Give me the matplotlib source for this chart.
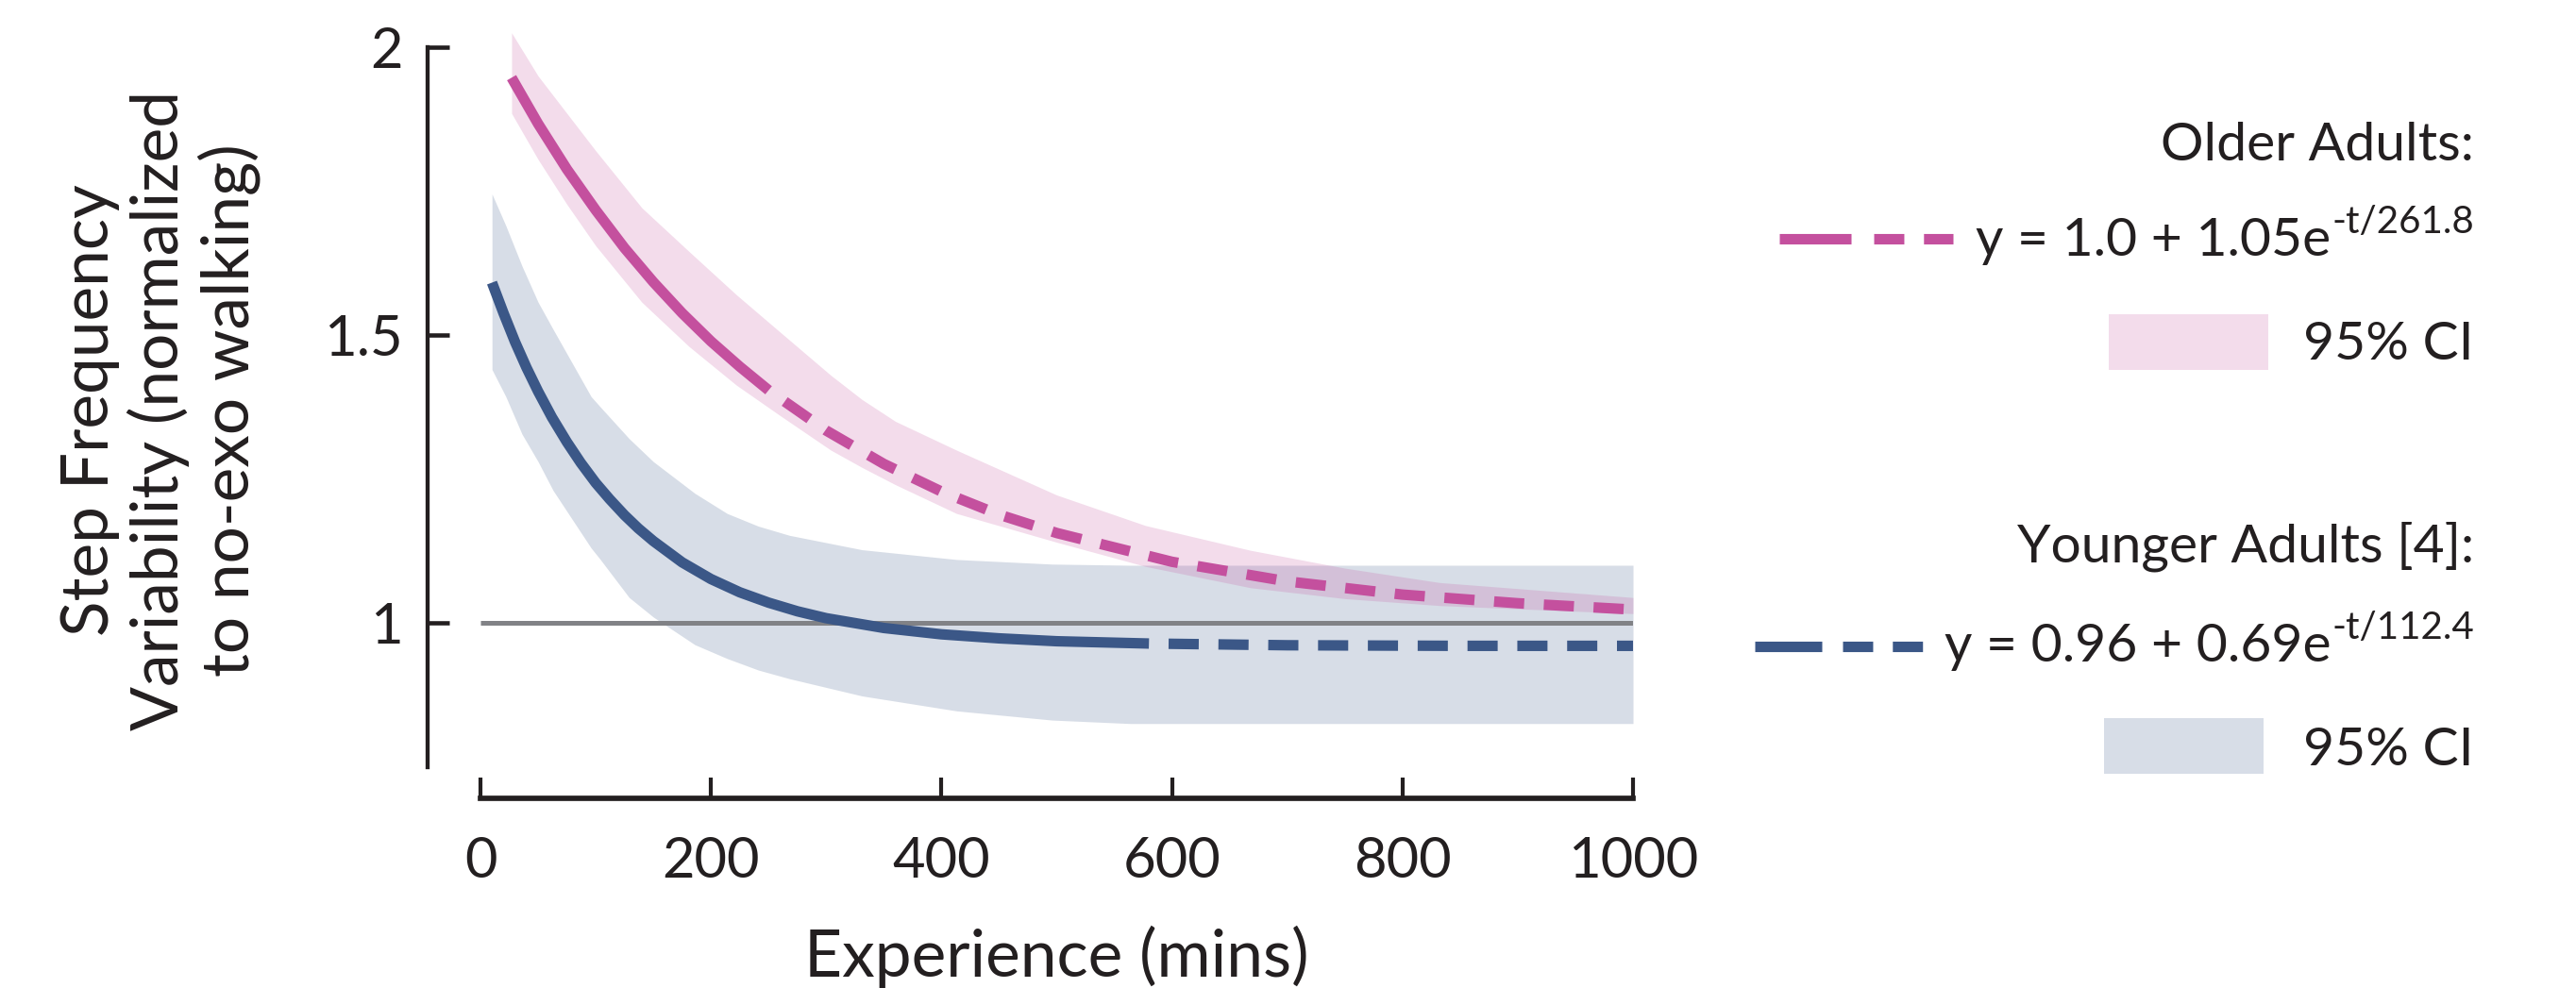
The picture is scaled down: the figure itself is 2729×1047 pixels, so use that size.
import matplotlib
matplotlib.use("Agg")
import matplotlib.pyplot as plt
from matplotlib.patches import Rectangle

plt.rcParams["font.family"] = ["Lato", "DejaVu Sans"]
plt.rcParams["lines.scale_dashes"] = False

# ---- data ---------------------------------------------------------------
# Older adults: fitted curve (solid up to old_solid_end, dashed after)
old_t = [27, 50, 75, 100, 125, 150, 175, 200, 225, 250, 300, 350, 400, 450,
         500, 600, 700, 800, 900, 1000]
old_y = [1.947, 1.867, 1.788, 1.717, 1.651, 1.592, 1.538, 1.489, 1.445, 1.404,
         1.334, 1.276, 1.228, 1.188, 1.156, 1.106, 1.072, 1.049, 1.034, 1.023]
old_solid_end = 250

old_ci_t = [27, 50, 75, 100, 140, 181, 222, 260, 304, 331, 360, 413, 500, 577,
            668, 750, 832, 1000]
old_ci_hi = [2.025, 1.95, 1.885, 1.82, 1.721, 1.645, 1.57, 1.505, 1.43, 1.388,
             1.35, 1.30, 1.222, 1.169, 1.126, 1.095, 1.07, 1.044]
old_ci_lo = [1.885, 1.805, 1.727, 1.655, 1.557, 1.48, 1.413, 1.36, 1.30, 1.27,
             1.24, 1.19, 1.14, 1.098, 1.061, 1.042, 1.03, 1.016]

# Younger adults [4]
young_t = [10, 20, 30, 40, 50, 62, 75, 87, 100, 112, 125, 137, 150, 175, 200,
           225, 250, 275, 300, 350, 400, 450, 500, 580, 700, 850, 1000]
young_y = [1.591, 1.538, 1.488, 1.443, 1.402, 1.357, 1.314, 1.278, 1.243, 1.215,
           1.187, 1.164, 1.142, 1.105, 1.076, 1.053, 1.035, 1.020, 1.008, 0.991,
           0.980, 0.973, 0.968, 0.964, 0.961, 0.960, 0.960]
young_solid_end = 580

young_ci_t = [10, 22, 36, 50, 63, 96, 104, 129, 150, 186, 214, 241, 268, 331,
              413, 496, 564, 1000]
young_ci_hi = [1.745, 1.69, 1.62, 1.557, 1.51, 1.393, 1.375, 1.32, 1.28, 1.225,
               1.19, 1.168, 1.152, 1.127, 1.11, 1.102, 1.10, 1.10]
young_ci_lo = [1.44, 1.393, 1.328, 1.28, 1.23, 1.13, 1.11, 1.044, 1.01, 0.962,
               0.938, 0.918, 0.903, 0.873, 0.847, 0.831, 0.825, 0.825]

baseline_t = [0, 1000]
baseline_y = [1, 1]

group_titles = ["Older Adults:", "Younger Adults [4]:"]
eq_main = ["y = 1.0 + 1.05e", "y = 0.96 + 0.69e"]
eq_sup = ["-t/261.8", "-t/112.4"]

x_ticks = [0, 200, 400, 600, 800, 1000]
y_ticks = [1, 1.5, 2]
y_ticklabels = ["1", "1.5", "2"]

# ---- style ----------------------------------------------------------------
PINK = "#c4509e"
BLUE = "#3b5787"
GREY = "#818286"
INK = "#231f20"
LW = 8
DASH = (23, 15)
DASH_GAP_FIRST = (23, DASH)   # pattern that opens with a gap

W, H = 2729, 1047
fig = plt.figure(figsize=(W / 100, H / 100), dpi=100)
ax = fig.add_axes([509 / W, 1 - 812.5 / H, 1221 / W, 762.5 / H])


def split(t, y, cut):
    a = [(ti, yi) for ti, yi in zip(t, y) if ti <= cut]
    b = [(ti, yi) for ti, yi in zip(t, y) if ti >= cut]
    return list(zip(*a)), list(zip(*b))


ax.fill_between(young_ci_t, young_ci_lo, young_ci_hi, color=BLUE, alpha=0.2, lw=0,
                zorder=1, clip_on=False)
ax.fill_between(old_ci_t, old_ci_lo, old_ci_hi, color=PINK, alpha=0.2, lw=0,
                zorder=2, clip_on=False)
ax.plot(baseline_t, baseline_y, color=GREY, lw=3.6, solid_capstyle="butt", zorder=3)

for t, y, cut, col, z in [(young_t, young_y, young_solid_end, BLUE, 4),
                          (old_t, old_y, old_solid_end, PINK, 5)]:
    (ts, ys), (td, yd) = split(t, y, cut)
    ax.plot(ts, ys, color=col, lw=LW, solid_capstyle="butt", zorder=z, clip_on=False)
    ax.plot(td, yd, color=col, lw=LW, linestyle=DASH_GAP_FIRST, dash_capstyle="butt",
            zorder=z)

ax.set_xlim(0, 1000)
ax.set_ylim(0.75, 2.0)
ax.set_xticks(x_ticks)
ax.set_yticks(y_ticks)
ax.set_yticklabels(y_ticklabels)
for s in ["top", "right"]:
    ax.spines[s].set_visible(False)
ax.spines["left"].set_position(("outward", 40))
ax.spines["bottom"].set_position(("outward", 24))
ax.spines["left"].set_linewidth(3.1)
ax.spines["bottom"].set_linewidth(4.1)
ax.spines["left"].set_color(INK)
ax.spines["bottom"].set_color(INK)
ax.tick_params(axis="x", direction="in", length=16, width=3, pad=29,
               labelsize=43, colors=INK)
ax.tick_params(axis="y", direction="in", length=16.5, width=3.3, pad=19,
               labelsize=43, colors=INK)
ax.patch.set_alpha(0)

fig.text(1119.5 / W, 1 - 1035 / H, "Experience (mins)", ha="center", va="baseline",
         fontsize=50, color=INK)
fig.text(170 / W, 1 - 435 / H, "Step Frequency\nVariability (normalized\nto no-exo walking)",
         rotation=90, ha="center", va="center", multialignment="center",
         linespacing=1.15, fontsize=50, color=INK)

# ---- legend, drawn in figure pixel coordinates -----------------------------
lax = fig.add_axes([0, 0, 1, 1])
lax.set_xlim(0, W)
lax.set_ylim(H, 0)
lax.axis("off")

RIGHT = 2621
rend = fig.canvas.get_renderer()
inv = lax.transData.inverted()

rows = [
    dict(col=PINK, title_y=170, line_y=253, solid=(1885, 1961), dashed=(1985, 2069),
         eq_y=271, sup_y=247, patch=(2234, 333, 169, 59), ci_y=381),
    dict(col=BLUE, title_y=595, line_y=685, solid=(1859, 1930), dashed=(1952, 2037),
         eq_y=701, sup_y=677, patch=(2229, 761, 169, 59), ci_y=811),
]
for i, r in enumerate(rows):
    lax.text(RIGHT, r["title_y"], group_titles[i], ha="right", va="baseline",
             fontsize=41, color=INK)
    lax.plot(r["solid"], [r["line_y"]] * 2, color=r["col"], lw=LW, solid_capstyle="butt")
    lax.plot(r["dashed"], [r["line_y"]] * 2, color=r["col"], lw=LW, dashes=DASH,
             dash_capstyle="butt")
    sup = lax.text(RIGHT, r["sup_y"], eq_sup[i], ha="right", va="baseline",
                   fontsize=29, color=INK)
    bb = sup.get_window_extent(renderer=rend)
    x0 = inv.transform((bb.x0, bb.y0))[0]
    lax.text(x0 - 1, r["eq_y"], eq_main[i], ha="right", va="baseline",
             fontsize=41, color=INK)
    px, py, pw, ph = r["patch"]
    lax.add_patch(Rectangle((px, py), pw, ph, facecolor=r["col"], alpha=0.2, lw=0))
    lax.text(RIGHT, r["ci_y"], "95% CI", ha="right", va="baseline",
             fontsize=41, color=INK)

fig.savefig("out.png", dpi=100)
